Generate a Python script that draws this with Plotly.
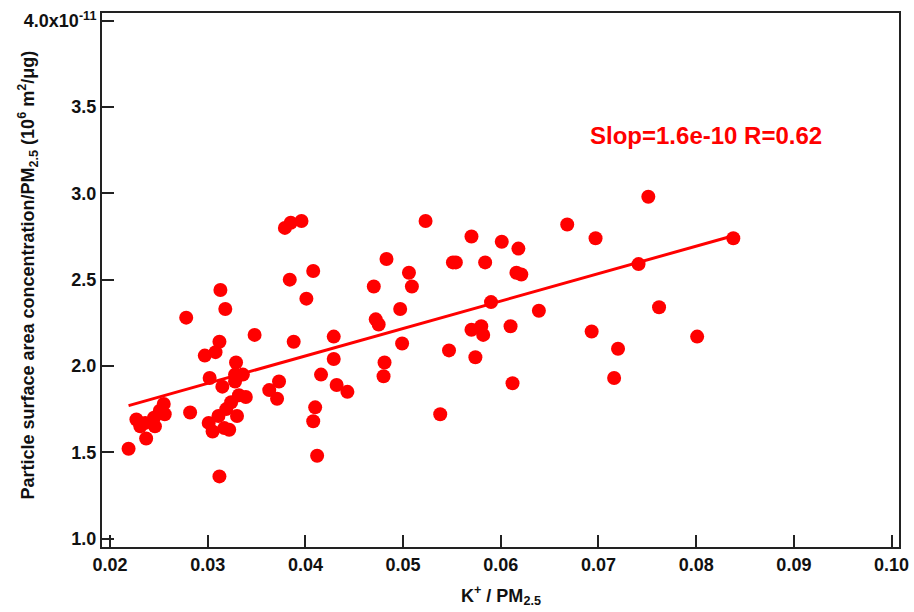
import plotly.graph_objects as go

# K+ / PM2.5 ratio (x) and particle surface area concentration / PM2.5 (y, in 1e-11 units)
k_ratio = [0.0219, 0.0227, 0.0231, 0.0236, 0.0237, 0.0246, 0.0245, 0.0251, 0.0256, 0.0255,
           0.0278, 0.0282, 0.0297, 0.0301, 0.0302, 0.0305, 0.0308, 0.0311, 0.0312, 0.0312,
           0.0313, 0.0318, 0.0315, 0.0319, 0.0317, 0.0322, 0.0324, 0.0328, 0.0336, 0.0328,
           0.0329, 0.0330, 0.0332, 0.0339, 0.0348, 0.0363, 0.0371, 0.0373, 0.0379, 0.0385,
           0.0396, 0.0384, 0.0388, 0.0401, 0.0408, 0.0410, 0.0408, 0.0412, 0.0416, 0.0429,
           0.0429, 0.0432, 0.0443, 0.0470, 0.0472, 0.0475, 0.0481, 0.0480, 0.0483, 0.0497,
           0.0499, 0.0506, 0.0509, 0.0523, 0.0538, 0.0547, 0.0551, 0.0554, 0.0570, 0.0570,
           0.0574, 0.0580, 0.0582, 0.0584, 0.0590, 0.0601, 0.0610, 0.0612, 0.0616, 0.0618,
           0.0621, 0.0639, 0.0668, 0.0693, 0.0697, 0.0716, 0.0720, 0.0741, 0.0751, 0.0762,
           0.0801, 0.0838]
surface_area = [1.52, 1.69, 1.65, 1.67, 1.58, 1.65, 1.70, 1.74, 1.72, 1.78,
                2.28, 1.73, 2.06, 1.67, 1.93, 1.62, 2.08, 1.71, 2.14, 1.36,
                2.44, 2.33, 1.88, 1.75, 1.64, 1.63, 1.79, 1.95, 1.95, 1.91,
                2.02, 1.71, 1.83, 1.82, 2.18, 1.86, 1.81, 1.91, 2.80, 2.83,
                2.84, 2.50, 2.14, 2.39, 2.55, 1.76, 1.68, 1.48, 1.95, 2.17,
                2.04, 1.89, 1.85, 2.46, 2.27, 2.24, 2.02, 1.94, 2.62, 2.33,
                2.13, 2.54, 2.46, 2.84, 1.72, 2.09, 2.60, 2.60, 2.75, 2.21,
                2.05, 2.23, 2.18, 2.60, 2.37, 2.72, 2.23, 1.90, 2.54, 2.68,
                2.53, 2.32, 2.82, 2.20, 2.74, 1.93, 2.10, 2.59, 2.98, 2.34,
                2.17, 2.74]

# Regression line (y in 1e-11 units)
fit_slope = 15.9
fit_intercept = 1.422
fit_label = "Slop=1.6e-10 R=0.62"

x_ticks = [0.02, 0.03, 0.04, 0.05, 0.06, 0.07, 0.08, 0.09, 0.10]
x_tick_labels = ["0.02", "0.03", "0.04", "0.05", "0.06", "0.07", "0.08", "0.09", "0.10"]
y_ticks = [1.0, 1.5, 2.0, 2.5, 3.0, 3.5, 4.0]
y_tick_labels = ["1.0", "1.5", "2.0", "2.5", "3.0", "3.5", "4.0x10<sup>-11</sup>"]

FONT = "Arial, 'Liberation Sans', sans-serif"
RED = "#ff0000"
AXIS = "#222222"
TXT = "#111111"

fit_x = [min(k_ratio), max(k_ratio)]
fit_y = [fit_intercept + fit_slope * v for v in fit_x]

fig = go.Figure()
fig.add_trace(go.Scatter(
    x=k_ratio, y=surface_area, mode="markers",
    marker=dict(color=RED, size=14, line=dict(width=0)),
    showlegend=False, hoverinfo="x+y"))
fig.add_trace(go.Scatter(
    x=fit_x, y=fit_y, mode="lines",
    line=dict(color=RED, width=3), showlegend=False))

axis_common = dict(
    showgrid=False, zeroline=False, showline=True, linecolor=AXIS, linewidth=2,
    mirror=True, ticks="inside", ticklen=12, tickwidth=2, tickcolor=AXIS,
    tickfont=dict(family=FONT, size=18, color=TXT, weight="bold"))

fig.update_xaxes(range=[0.01918, 0.10076], tickvals=x_ticks, ticktext=x_tick_labels,
                 **axis_common)
fig.update_yaxes(range=[0.951, 4.045], tickvals=y_ticks, ticktext=y_tick_labels,
                 **axis_common)

fig.add_annotation(text="K<sup>+</sup> / PM<sub>2.5</sub>", xref="paper", yref="paper",
                   x=0.5, y=-0.063, yanchor="top", showarrow=False,
                   font=dict(family=FONT, size=18, color=TXT, weight="bold"))
fig.add_annotation(text="Particle surface area concentration/PM<sub>2.5</sub> (10<sup>6</sup> m<sup>2</sup>/μg)",
                   xref="paper", yref="paper", x=-0.093, y=0.51, textangle=-90,
                   xanchor="center", yanchor="middle", showarrow=False,
                   font=dict(family=FONT, size=18, color=TXT, weight="bold"))
fig.add_annotation(text=fit_label, xref="x", yref="y", x=0.0810, y=3.338,
                   showarrow=False, xanchor="center", yanchor="middle",
                   font=dict(family=FONT, size=24, color=RED, weight="bold"))

fig.update_layout(
    width=914, height=612,
    margin=dict(l=102, r=15, t=13, b=65, autoexpand=False),
    paper_bgcolor="white", plot_bgcolor="white",
    font=dict(family=FONT))

fig.write_html("out.html")
